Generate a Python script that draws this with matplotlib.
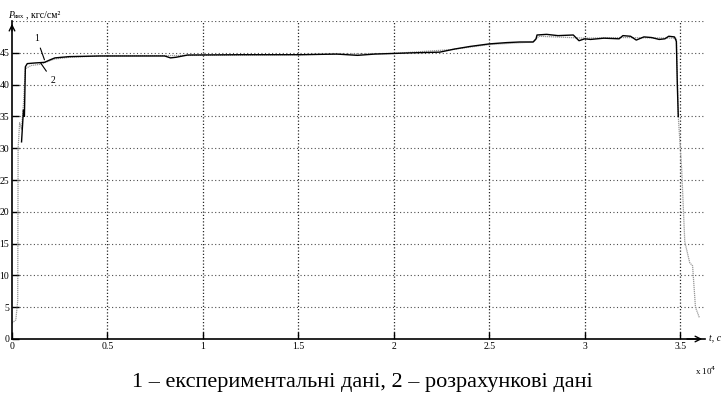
import matplotlib.pyplot as plt
import numpy as np

# curve 1 - experimental data (t in units of 10^4 s, pressure kgf/cm2)
t_exp = [0.05, 0.055, 0.06, 0.065, 0.07, 0.08, 0.12, 0.17, 0.2, 0.225, 0.3, 0.46,
         0.6, 0.8, 0.83, 0.86, 0.92, 1.2, 1.51, 1.7, 1.81, 1.9, 2.0, 2.1, 2.24,
         2.32, 2.4, 2.5, 2.59, 2.66, 2.73, 2.745, 2.75, 2.8, 2.86, 2.94, 2.97,
         3.0, 3.03, 3.1, 3.18, 3.2, 3.24, 3.27, 3.31, 3.35, 3.39, 3.42, 3.44,
         3.47, 3.48, 3.485, 3.49]
p_exp = [31.0, 33.5, 36.0, 35.0, 42.8, 43.3, 43.4, 43.5, 43.9, 44.2, 44.4, 44.5,
         44.5, 44.5, 44.2, 44.3, 44.65, 44.7, 44.7, 44.8, 44.6, 44.8, 44.9, 45.0,
         45.1, 45.6, 46.0, 46.4, 46.6, 46.7, 46.7, 47.2, 47.8, 47.9, 47.7, 47.8,
         46.9, 47.2, 47.1, 47.3, 47.2, 47.7, 47.6, 47.0, 47.5, 47.4, 47.1, 47.2,
         47.6, 47.5, 46.8, 40.0, 35.0]

# curve 2 - calculated data
t_calc = [0.0, 0.02, 0.025, 0.03, 0.032, 0.04, 0.05, 0.06, 0.07, 0.1, 0.15,
          0.22, 0.3, 0.46, 1.0, 1.5, 2.0, 2.3, 2.5, 2.73, 2.76, 3.0, 3.2, 3.48,
          3.49, 3.508, 3.524, 3.55, 3.565, 3.58, 3.6]
p_calc = [2.5, 3.0, 4.5, 6.0, 30.0, 34.0, 33.0, 37.0, 42.5, 43.0, 43.2,
          44.0, 44.3, 44.5, 44.6, 44.7, 44.9, 45.5, 46.3, 46.7, 47.6, 47.3,
          47.4, 47.3, 35.0, 26.6, 15.3, 12.0, 11.5, 5.0, 3.4]

xticks = [0, 0.5, 1, 1.5, 2, 2.5, 3, 3.5]
xticklabels = ["0", "0.5", "1", "1.5", "2", "2.5", "3", "3.5"]
yticks = [0, 5, 10, 15, 20, 25, 30, 35, 40, 45]

fig = plt.figure(figsize=(7.25, 3.94), dpi=100)
ax = fig.add_axes([12 / 725, 55 / 394, 693 / 725, 318 / 394])
ax.set_xlim(0, 3.63)
ax.set_ylim(0, 50)

ax.plot(t_calc, p_calc, color="0.6", lw=0.9, ls=(0, (1, 0.6)))
ax.plot(t_exp, p_exp, color="black", lw=1.0)

# dotted grid
for x in xticks[1:]:
    ax.axvline(x, color="0.15", lw=0.9, ls=(0, (1, 1.6)), zorder=0)
for y in yticks[1:] + [50]:
    ax.axhline(y, color="0.3", lw=0.8, ls=(0, (1, 2.2)), zorder=0)

ax.spines["top"].set_visible(False)
ax.spines["right"].set_visible(False)
ax.spines["left"].set_linewidth(1.2)
ax.spines["bottom"].set_linewidth(1.2)

ax.set_xticks(xticks)
ax.set_xticklabels(xticklabels, family="Liberation Serif", fontsize=7)
ax.set_yticks(yticks)
ax.set_yticklabels([str(v) for v in yticks], family="Liberation Serif", fontsize=7)
ax.tick_params(direction="in", length=5, width=1, pad=2)

# axis arrows
ax.annotate("", xy=(1.0, 0), xycoords="axes fraction", xytext=(0.97, 0),
            arrowprops=dict(arrowstyle="->", color="black", lw=1.0))
ax.annotate("", xy=(0, 1.0), xycoords="axes fraction", xytext=(0, 0.96),
            arrowprops=dict(arrowstyle="->", color="black", lw=1.0))

# curve labels
ax.annotate("1", xy=(0.17, 43.9), xytext=(0.13, 47.3), fontsize=7,
            family="Liberation Serif", ha="center", va="center",
            arrowprops=dict(arrowstyle="-", color="black", lw=0.8, shrinkA=2, shrinkB=0))
ax.annotate("2", xy=(0.15, 43.4), xytext=(0.215, 40.6), fontsize=7,
            family="Liberation Serif", ha="center", va="center",
            arrowprops=dict(arrowstyle="-", color="black", lw=0.8, shrinkA=2, shrinkB=0))

# axis titles
fig.text(8 / 725, 1 - 15 / 394, "P", fontsize=7, style="italic",
         family="Liberation Serif", va="center")
fig.text(14 / 725, 1 - 17 / 394, "вих", fontsize=5, family="Liberation Serif", va="center")
fig.text(26 / 725, 1 - 15 / 394, ", кгс/см²", fontsize=7,
         family="Liberation Serif", va="center")
fig.text(709 / 725, 1 - 338 / 394, "t, c", fontsize=7, style="italic",
         family="Liberation Serif", va="center")
fig.text(695 / 725, 1 - 371 / 394, "x 10$^4$", fontsize=6.5,
         family="Liberation Serif", va="center")

fig.text(0.5, 1 - 382 / 394, "1 – експериментальні дані, 2 – розрахункові дані",
         fontsize=16, family="Liberation Serif", ha="center", va="center")

fig.savefig("out.png", dpi=100)
